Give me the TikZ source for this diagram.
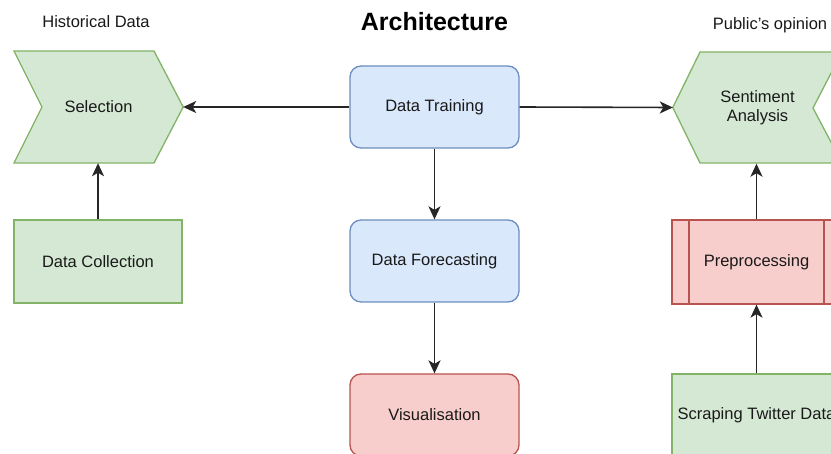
\documentclass[tikz,border=0pt]{standalone}
\usepackage{fontspec}
\setmainfont{Liberation Sans}
\usetikzlibrary{arrows.meta}
\definecolor{gfill}{HTML}{D5E8D4}\definecolor{gline}{HTML}{82B366}
\definecolor{bfill}{HTML}{DAE8FC}\definecolor{bline}{HTML}{6C8EBF}
\definecolor{rfill}{HTML}{F8CECC}\definecolor{rline}{HTML}{B85450}
\begin{document}
\begin{tikzpicture}[x=1pt,y=-1pt,
  every node/.style={font=\fontsize{16.5}{19}\selectfont, text=black!90, inner sep=0pt, align=center},
  frame/.style={minimum width=169pt, minimum height=112pt},
  boxg/.style={draw=gline, fill=gfill, line width=1.3pt, minimum width=168pt, minimum height=83pt},
  boxb/.style={draw=bline, fill=bfill, line width=1.3pt, rounded corners=11pt, minimum width=169pt, minimum height=82pt},
  boxr/.style={draw=rline, fill=rfill, line width=1.3pt, rounded corners=11pt, minimum width=169pt, minimum height=82pt},
  procbox/.style={draw=rline, fill=rfill, line width=1.3pt, minimum width=169pt, minimum height=84pt},
  chev/.style={draw=gline, fill=gfill, line width=1.3pt, line join=miter},
  conn/.style={draw=black!85, line width=1.6pt, -{Stealth[length=13pt,width=12pt,inset=3.5pt]}},
  lbl/.style={font=\fontsize{16.5}{19}\selectfont}
]
\useasboundingbox (0,0) rectangle (831,454);
\clip (0,0) rectangle (831,454);
\fill[white] (0,0) rectangle (831,454);

% titles
\node[font=\bfseries\fontsize{25}{28}\selectfont, text=black] (title) at (434.5,22) {Architecture};
\node[lbl] (hist) at (96,22) {Historical Data};
\node[lbl] (pub) at (770,25) {Public's opinion};

% chevrons
\node[frame] (sel) at (98.5,107) {};
\draw[chev] (14,51) -- (154,51) -- (sel.east) -- (154,163) -- (14,163) -- (42,107) -- cycle;
\node at (sel.center) {Selection};

\node[frame] (sent) at (757.5,107.5) {};
\draw[chev] (sent.west) -- (700,52) -- (842,52) -- (813,108) -- (842,163) -- (700,163) -- cycle;
\node at (sent.center) {Sentiment\\Analysis};

% boxes
\node[boxb] (train) at (434.5,107) {Data Training};
\node[boxb] (fore) at (434.5,261) {Data Forecasting};
\node[boxr] (vis) at (434.5,415) {Visualisation};
\node[boxg] (coll) at (98,261.5) {Data Collection};
\node[procbox] (pre) at (756.5,262) {Preprocessing};
\draw[draw=rline, line width=1.3pt] (689,220) -- (689,304) (824,220) -- (824,304);
\node[boxg, minimum width=169pt] (scr) at (756.5,415.5) {Scraping Twitter Data};

% connectors
\draw[conn] (train.west) -- (sel.east);
\draw[conn] (train.east) -- (sent.west);
\draw[conn] (train.south) -- (fore.north);
\draw[conn] (fore.south) -- (vis.north);
\draw[conn] (coll.north) -- (coll.north |- sel.south);
\draw[conn] (pre.north) -- (pre.north |- sent.south);
\draw[conn] (scr.north) -- (pre.south);
\end{tikzpicture}
\end{document}
